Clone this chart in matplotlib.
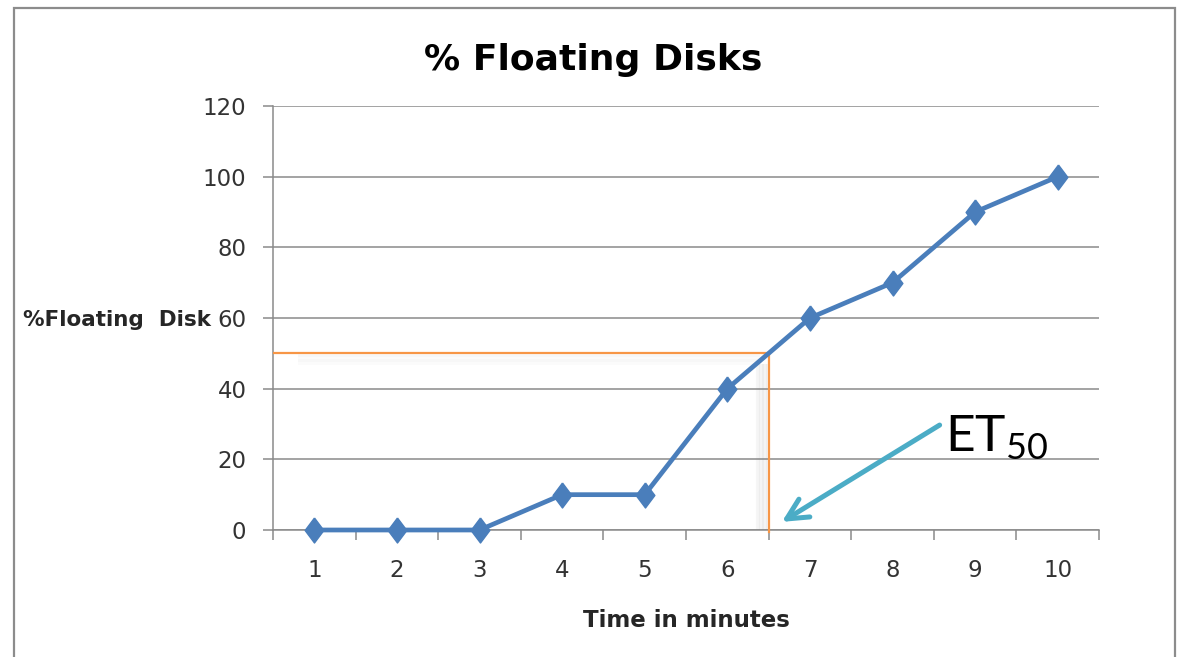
import numpy as np
import matplotlib.pyplot as plt
from matplotlib.patches import Rectangle
from matplotlib import transforms

minutes = [1, 2, 3, 4, 5, 6, 7, 8, 9, 10]
floating = [0, 0, 0, 10, 10, 40, 60, 70, 90, 100]
y_ticks = [0, 20, 40, 60, 80, 100, 120]
et50_x = 6.5
et50_y = 50
arrow_from = (8.57, 29.7)
arrow_to = (6.66, 2.3)
label_pos = (8.636, 22.1)

blue = '#4a7ebb'
orange = '#f79646'
teal = '#4bacc6'
grey = '#8a8a8a'

plt.rcParams['font.family'] = ['DejaVu Sans']

fig = plt.figure(figsize=(11.8, 6.57), dpi=100)
ax = fig.add_axes([0.2314, 0.1933, 0.7, 0.6454])

# excel style category axis: marks between the categories, labels in the middle
bounds = [m - 0.5 for m in minutes] + [minutes[-1] + 0.5]
ax.set_xlim(bounds[0], bounds[-1])
ax.set_xticks(bounds)
ax.set_xticklabels([])
ax.set_xticks(minutes, minor=True)
ax.set_xticklabels([str(m) for m in minutes], minor=True, fontsize=16.5, color='#333333')
ax.tick_params(axis='x', which='major', length=7.2, width=1.1, color=grey)
ax.tick_params(axis='x', which='minor', length=0, pad=21)

ax.set_ylim(0, 120)
ax.set_yticks(y_ticks)
ax.set_yticklabels([str(v) for v in y_ticks], fontsize=16.5, color='#333333')
ax.tick_params(axis='y', length=7.2, width=1.1, color=grey, pad=12)
ax.yaxis.grid(True, color=grey, lw=1.1)
ax.set_axisbelow(True)
for s in ['top', 'right']:
    ax.spines[s].set_visible(False)
for s in ['left', 'bottom']:
    ax.spines[s].set_color(grey)
    ax.spines[s].set_linewidth(1.1)

# soft shadows behind the ET50 guide lines
for i in range(1, 9):
    off = transforms.offset_copy(ax.transData, fig=fig, x=-i * 1.4, y=0, units='dots')
    ax.plot([et50_x, et50_x], [et50_y - 3, 0], color='#808080', alpha=0.07, lw=1.5,
            transform=off, zorder=2, solid_capstyle='butt')
    off = transforms.offset_copy(ax.transData, fig=fig, x=0, y=-i * 1.3, units='dots')
    ax.plot([bounds[0] + 0.3, et50_x - 0.1], [et50_y, et50_y], color='#808080',
            alpha=0.03, lw=1.5, transform=off, zorder=2, solid_capstyle='butt')

ax.plot([bounds[0], et50_x], [et50_y, et50_y], color=orange, lw=1.6, zorder=3)
ax.plot([et50_x, et50_x], [et50_y, -0.5], color=orange, lw=1.6, zorder=3, clip_on=False)

diamond = [(0, 1), (0.75, 0), (0, -1), (-0.75, 0), (0, 1)]
ax.plot(minutes, floating, color=blue, lw=3.4, marker=diamond, ms=18,
        zorder=4, clip_on=False)

ax.annotate('', xy=arrow_to, xytext=arrow_from,
            arrowprops=dict(arrowstyle='->,head_length=1.5,head_width=0.75',
                            color=teal, lw=3.6, shrinkA=0, shrinkB=0),
            zorder=5)
ax.text(label_pos[0], label_pos[1], r'ET$_{\mathregular{50}}$', fontsize=37,
        family='Lato', ha='left', va='baseline', color='black', zorder=6)

fig.text(0.5025, 0.8935, '% Floating Disks', fontsize=26, fontweight='bold',
         ha='center', va='baseline')
fig.text(0.0195, 0.513, '%Floating  Disk', fontsize=15.5, fontweight='bold',
         ha='left', va='center', color='#262626')
fig.text(0.5818, 0.0563, 'Time in minutes', fontsize=16.5, fontweight='bold',
         ha='center', va='center', color='#262626')

fig.patches.append(Rectangle((14 / 1180, -0.1), 1161 / 1180, 1.1 - 8 / 657,
                             transform=fig.transFigure, fill=False,
                             edgecolor='#8c8c8c', lw=1.6))

fig.savefig('out.png', dpi=100)
